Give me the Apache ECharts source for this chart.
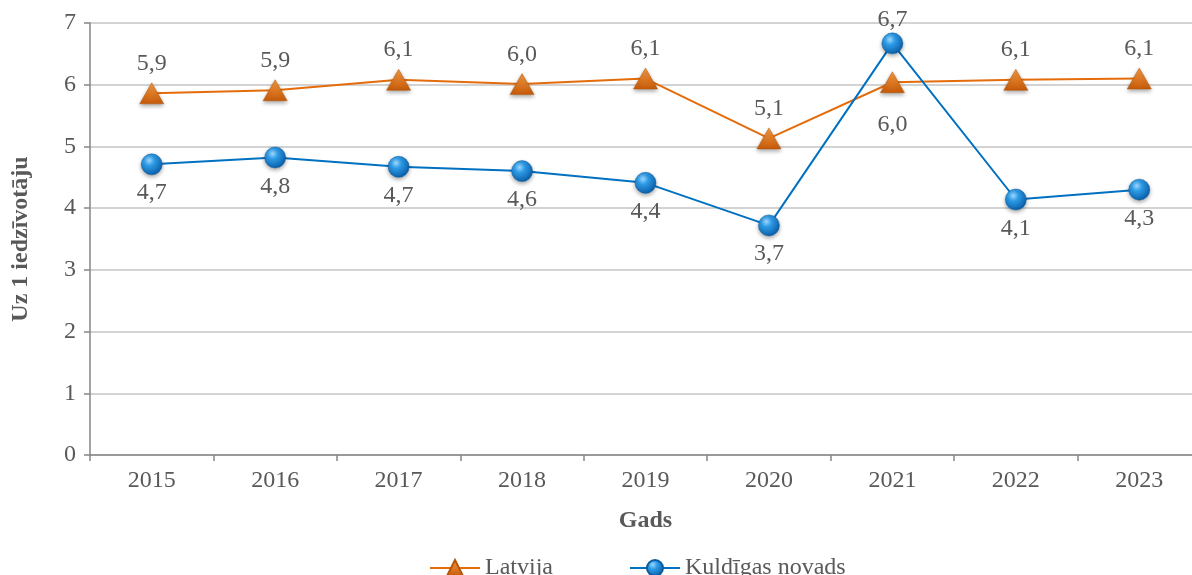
<!DOCTYPE html>
<html>
<head>
<meta charset="utf-8">
<script src="https://cdn.jsdelivr.net/npm/echarts@6/dist/echarts.min.js"></script>
<style>
  html, body { margin: 0; padding: 0; background: #fff; }
  #chart { width: 1192px; height: 575px; }
</style>
</head>
<body>
<div id="chart"></div>
<script>
// dati
const years = ['2015', '2016', '2017', '2018', '2019', '2020', '2021', '2022', '2023'];
const latvija = [5.86, 5.91, 6.08, 6.01, 6.1, 5.13, 6.04, 6.08, 6.1];
const latvijaLabels = ['5,9', '5,9', '6,1', '6,0', '6,1', '5,1', '6,0', '6,1', '6,1'];
const kuldiga = [4.71, 4.82, 4.67, 4.6, 4.41, 3.72, 6.67, 4.14, 4.3];
const kuldigaLabels = ['4,7', '4,8', '4,7', '4,6', '4,4', '3,7', '6,7', '4,1', '4,3'];

const textColor = '#595959';
const fontFam = '"Liberation Serif", "Times New Roman", serif';
const fs = 24;

// 2021 label goes on the other side
function labelled(values, labels, defPos, defDist, flipIdx, flipDist) {
    return values.map((v, i) => ({
        value: v,
        label: {
            position: i === flipIdx ? (defPos === 'top' ? 'bottom' : 'top') : defPos,
            distance: i === flipIdx ? flipDist : defDist,
            formatter: labels[i]
        }
    }));
}

const chart = echarts.init(document.getElementById('chart'));

const option = {
    animation: false,
    textStyle: { fontFamily: fontFam },
    grid: { left: 90, top: 23, width: 1111, height: 432, outerBoundsMode: 'none', containLabel: false },
    legend: {
        bottom: -10,
        left: 424,
        itemWidth: 50,
        itemHeight: 20,
        itemGap: 76,
        textStyle: { fontFamily: fontFam, fontSize: fs, color: textColor },
        data: ['Latvija', 'Kuldīgas novads']
    },
    xAxis: {
        type: 'category',
        data: years,
        name: 'Gads',
        nameLocation: 'middle',
        nameGap: 54,
        nameTextStyle: { fontFamily: fontFam, fontSize: fs, fontWeight: 'bold', color: textColor },
        axisLine: { lineStyle: { color: '#868686', width: 1.5 } },
        axisTick: { show: true, length: 6, lineStyle: { color: '#868686', width: 1.5 } },
        axisLabel: { fontFamily: fontFam, fontSize: fs, color: textColor, margin: 14 }
    },
    yAxis: {
        type: 'value',
        min: 0,
        max: 7,
        interval: 1,
        name: 'Uz 1 iedzīvotāju',
        nameLocation: 'middle',
        nameGap: 57,
        nameTextStyle: { fontFamily: fontFam, fontSize: fs, fontWeight: 'bold', color: textColor },
        axisLine: { show: true, lineStyle: { color: '#868686', width: 1.5 } },
        axisTick: { show: true, length: 6, lineStyle: { color: '#868686', width: 1.5 } },
        axisLabel: { fontFamily: fontFam, fontSize: fs, color: textColor, margin: 14 },
        splitLine: { lineStyle: { color: '#c4c4c4', width: 1.5 } }
    },
    series: [
        {
            name: 'Latvija',
            type: 'line',
            data: labelled(latvija, latvijaLabels, 'top', 7, 6, 20),
            symbol: 'triangle',
            symbolSize: [24, 21],
            lineStyle: { color: '#E46C0A', width: 2 },
            itemStyle: {
                color: new echarts.graphic.LinearGradient(0, 0, 0, 1, [
                    { offset: 0, color: '#F59A42' },
                    { offset: 1, color: '#C65A08' }
                ]),
                borderColor: '#B95507',
                borderWidth: 0.5,
                shadowColor: 'rgba(0,0,0,0.35)',
                shadowBlur: 4,
                shadowOffsetY: 2
            },
            label: {
                show: true,
                fontFamily: fontFam,
                fontSize: fs,
                color: textColor
            },
            z: 2
        },
        {
            name: 'Kuldīgas novads',
            type: 'line',
            data: labelled(kuldiga, kuldigaLabels, 'bottom', 6, 6, 1),
            symbol: 'circle',
            symbolSize: 21,
            lineStyle: { color: '#0070C0', width: 2 },
            itemStyle: {
                color: new echarts.graphic.RadialGradient(0.38, 0.32, 0.7, [
                    { offset: 0, color: '#9ED8FF' },
                    { offset: 0.35, color: '#2E9BE6' },
                    { offset: 1, color: '#0A5EA8' }
                ]),
                borderColor: '#0B5C9E',
                borderWidth: 0.5,
                shadowColor: 'rgba(0,0,0,0.35)',
                shadowBlur: 4,
                shadowOffsetY: 2
            },
            label: {
                show: true,
                fontFamily: fontFam,
                fontSize: fs,
                color: textColor
            },
            z: 3
        }
    ]
};

chart.setOption(option);
</script>
</body>
</html>
